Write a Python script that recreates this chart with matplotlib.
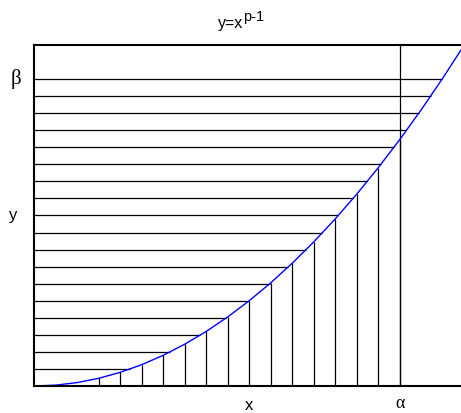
import matplotlib
matplotlib.use('Agg')
import matplotlib.pyplot as plt
import numpy as np

# curve y = x^(p-1) with p = 3, read at the polyline vertices
curve_x = [0, 1, 2, 3, 4, 5, 6, 7, 8, 9, 10, 11, 12, 13, 14, 15, 16, 17, 18, 19, 20]
curve_y = [0, 1, 4, 9, 16, 25, 36, 49, 64, 81, 100, 121, 144, 169, 196, 225, 256, 289, 324, 361, 400]

# strips under the curve (vertical) and beside it (horizontal)
vert_x = [3, 4, 5, 6, 7, 8, 9, 10, 11, 12, 13, 14, 15, 16, 17]
horiz_y = [20, 40, 60, 80, 100, 120, 140, 160, 180, 200, 220, 240, 260, 280, 300, 320, 340, 360]

alpha_x = 17
beta_y = 360

plt.rcParams['font.family'] = ['Liberation Sans', 'DejaVu Sans']

fig = plt.figure(figsize=(4.61, 4.13), dpi=100)
ax = fig.add_axes([0.0742, 0.0654, 0.9328, 0.8257])

vert_top = np.interp(vert_x, curve_x, curve_y)
ax.vlines(vert_x, 0, vert_top, color='black', lw=0.9)
ax.axvline(alpha_x, color='black', lw=0.9)

horiz_end = np.interp(horiz_y, curve_y, curve_x)
ax.hlines(horiz_y, 0, horiz_end, color='black', lw=0.9)

ax.plot(curve_x, curve_y, color='blue', lw=1)

ax.set_xlim(0, 20)
ax.set_ylim(0, 400)
ax.set_xticks([])
ax.set_yticks([])
for side in ['left', 'bottom', 'top']:
    ax.spines[side].set_linewidth(1.5)
ax.spines['right'].set_visible(False)

# title: base text plus raised exponent
fig.text(243 / 461, 1 - 28 / 413, 'y=x', ha='right', va='baseline', fontsize=11.5)
fig.text(243 / 461, 1 - 21 / 413, 'p-1', ha='left', va='baseline', fontsize=10.5)

ax.text(10, -14, 'x', ha='center', va='top', fontsize=12, clip_on=False)
ax.text(-1.0, 200, 'y', ha='center', va='center', fontsize=12, clip_on=False)
ax.text(alpha_x, -21, 'α', ha='center', va='center', fontsize=13,
        family=['Liberation Serif', 'DejaVu Serif'], clip_on=False)
ax.text(-0.85, beta_y, 'β', ha='center', va='center', fontsize=15,
        family=['Liberation Serif', 'DejaVu Serif'], clip_on=False)

fig.savefig('out.png', dpi=100)
